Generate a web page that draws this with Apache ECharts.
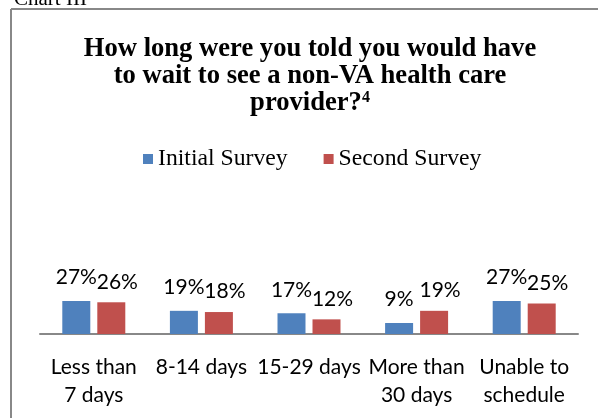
<!DOCTYPE html>
<html lang="en">
<head>
    <meta charset="UTF-8">
    <title>Chart III</title>
    <style>
        html, body { margin: 0; padding: 0; background: #fff; }
        #main { width: 598px; height: 418px; }
    </style>
    <script src="https://cdn.jsdelivr.net/npm/echarts@6/dist/echarts.min.js"></script>
</head>
<body>
<div id="main"></div>
<script>
    // data (percent)
    var categories = ['Less than\n7 days', '8-14 days', '15-29 days', 'More than\n30 days', 'Unable to\nschedule'];
    var initialSurvey = [27, 19, 17, 9, 27];
    var secondSurvey = [26, 18, 12, 19, 25];
    var seriesNames = ['Initial Survey', 'Second Survey'];

    var myChart = echarts.init(document.getElementById('main'));
    var calibri = 'Lato, "Open Sans", sans-serif';
    var serif = '"Liberation Serif", "DejaVu Serif", serif';

    var option = {
        animation: false,
        backgroundColor: '#fff',
        title: {
            text: 'How long were you told you would have\nto wait to see a non-VA health care\nprovider?{sup|4}',
            left: 305,
            textAlign: 'center',
            top: 31,
            textStyle: {
                fontFamily: serif,
                fontWeight: 'bold',
                fontSize: 26.6,
                lineHeight: 27,
                color: '#000',
                rich: {
                    sup: {
                        fontFamily: serif,
                        fontWeight: 'bold',
                        fontSize: 16,
                        verticalAlign: 'top',
                        lineHeight: 27,
                        padding: [0, 0, 9, 0]
                    }
                }
            }
        },
        legend: {
            data: seriesNames,
            top: 142,
            left: 138,
            itemWidth: 10,
            itemHeight: 10,
            itemGap: 36,
            icon: 'rect',
            textStyle: { fontFamily: serif, fontSize: 23.7, color: '#000' }
        },
        grid: { left: 40, right: 20, top: 212, bottom: 84 },
        xAxis: {
            type: 'category',
            data: categories,
            axisLine: { lineStyle: { color: '#888', width: 2 } },
            axisTick: { show: false },
            axisLabel: {
                interval: 0,
                margin: 19,
                fontFamily: calibri,
                fontSize: 21,
                lineHeight: 28,
                color: '#000'
            }
        },
        yAxis: {
            type: 'value',
            min: 0,
            max: 100,
            show: false
        },
        series: [
            {
                name: seriesNames[0],
                type: 'bar',
                data: initialSurvey,
                barWidth: 28,
                barGap: '25%',
                itemStyle: { color: '#4F81BD' },
                label: {
                    show: true,
                    position: 'top',
                    distance: 13,
                    formatter: '{c}%',
                    fontFamily: calibri,
                    fontSize: 21,
                    color: '#000'
                }
            },
            {
                name: seriesNames[1],
                type: 'bar',
                data: secondSurvey,
                barWidth: 28,
                itemStyle: { color: '#C0504D' },
                label: {
                    show: true,
                    position: 'top',
                    distance: 10,
                    offset: [6, 0],
                    formatter: '{c}%',
                    fontFamily: calibri,
                    fontSize: 21,
                    color: '#000'
                }
            }
        ],
        graphic: [
            {
                type: 'text',
                style: {
                    x: 14, y: 10, verticalAlign: 'bottom',
                    text: 'Chart III', font: '21px "Liberation Serif", serif', fill: '#000'
                }
            },
            {
                type: 'rect',
                shape: { x: 0, y: 7, width: 598, height: 411 },
                style: { fill: '#fff' }
            },
            {
                type: 'line',
                shape: { x1: 11, y1: 9, x2: 598, y2: 9 },
                style: { stroke: '#888', lineWidth: 2 }
            },
            {
                type: 'line',
                shape: { x1: 11, y1: 9, x2: 11, y2: 418 },
                style: { stroke: '#888', lineWidth: 2 }
            }
        ]
    };

    myChart.setOption(option);
</script>
</body>
</html>
